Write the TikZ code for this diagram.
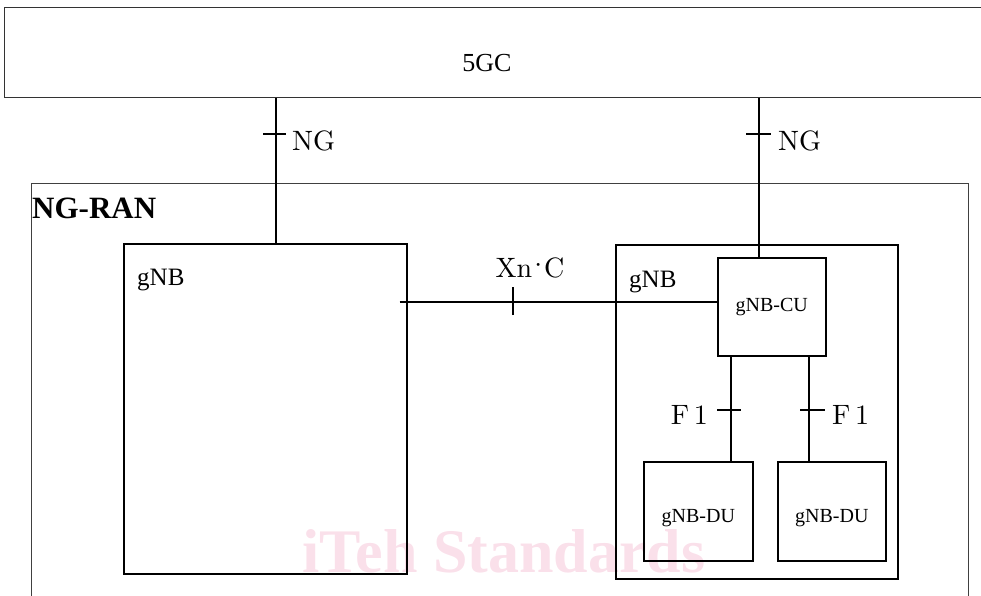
\documentclass[tikz,border=0pt]{standalone}
\usepackage{fontspec}
\usepackage{xcolor}
\usepackage{tikz}
\usetikzlibrary{positioning}
\newfontfamily\tnr{Liberation Serif}
\newfontfamily\cmten{lmroman10-regular.otf}
\definecolor{wmpink}{RGB}{250,224,234}
\tikzset{
    box/.style={draw, line width=1.6pt, anchor=north west, inner sep=0pt},
    wire/.style={line width=1.2pt},
    iflabel/.style={inner sep=0pt, font=\cmten\fontsize{28}{32}\selectfont},
}
\begin{document}
\begin{tikzpicture}[x=1pt, y=-1pt]
    \useasboundingbox (0,0) rectangle (981,596);
    % 水印
    \node[text=wmpink, font=\tnr\bfseries\fontsize{62}{70}\selectfont, anchor=base] (wm) at (504,572) {iTeh Standards};

    % 方框
    \node[box, draw=black!80, line width=1.3pt, minimum width=990pt, minimum height=90pt] (core) at (4,7) {};
    \node[font=\tnr\fontsize{26}{30}\selectfont] (coretext) at (487,63) {5GC};
    \node[box, draw=black!75, line width=1.1pt, minimum width=937pt, minimum height=430pt] (ngran) at (31,183) {};
    \node[anchor=base west, inner sep=0pt, font=\tnr\bfseries\fontsize{31}{34}\selectfont] (ngrantext) at (32,218) {NG-RAN};

    \node[box, minimum width=283pt, minimum height=330pt] (gnbL) at (123,243) {};
    \node[anchor=base west, inner sep=0pt, font=\tnr\fontsize{25}{28}\selectfont] (gnbLtext) at (137,285) {gNB};
    \node[box, minimum width=282pt, minimum height=334pt] (gnbR) at (615,244) {};
    \node[anchor=base west, inner sep=0pt, font=\tnr\fontsize{25}{28}\selectfont] (gnbRtext) at (629,287) {gNB};

    \node[box, minimum width=108pt, minimum height=98pt, font=\tnr\fontsize{20}{24}\selectfont] (cu) at (717,257) {gNB-CU};
    \node[box, minimum width=109pt, minimum height=99pt, font=\tnr\fontsize{20}{24}\selectfont, text height=26pt] (du1) at (643,461) {gNB-DU};
    \node[box, minimum width=108pt, minimum height=99pt, font=\tnr\fontsize{20}{24}\selectfont, text height=26pt] (du2) at (777,461) {gNB-DU};

    % 接口
    \coordinate (ngL) at (276,134);
    \coordinate (ngR) at (759,134);
    \coordinate (xn) at (513,302);
    \coordinate (f1L) at (731,410);
    \coordinate (f1R) at (809,410);

    \draw[wire] (ngL |- core.south) -- (ngL |- gnbL.north);
    \draw[wire] ([xshift=-13pt]ngL) -- ([xshift=10pt]ngL);
    \node[iflabel, anchor=base west] (ngLtext) at (292,151) {NG};

    \draw[wire] (ngR |- core.south) -- (ngR |- cu.north);
    \draw[wire] ([xshift=-13pt]ngR) -- ([xshift=12pt]ngR);
    \node[iflabel, anchor=base west] (ngRtext) at (778,151) {NG};

    \draw[wire] ([xshift=-8pt]gnbL.east |- xn) -- (cu.west |- xn);
    \draw[wire] ([yshift=-13pt]xn) -- ([yshift=15pt]xn);
    \node[iflabel, anchor=base] (xntext) at (530,277) {Xn\kern-5pt\raisebox{3pt}{\textperiodcentered}\kern-5pt C};

    \draw[wire] (f1L |- cu.south) -- (f1L |- du1.north);
    \draw[wire] ([xshift=-14pt]f1L) -- ([xshift=10pt]f1L);
    \node[iflabel, anchor=base east] (f1Ltext) at (708,424) {F\,1};

    \draw[wire] (f1R |- cu.south) -- (f1R |- du2.north);
    \draw[wire] ([xshift=-9pt]f1R) -- ([xshift=16pt]f1R);
    \node[iflabel, anchor=base west] (f1Rtext) at (832,424) {F\,1};
\end{tikzpicture}
\end{document}
